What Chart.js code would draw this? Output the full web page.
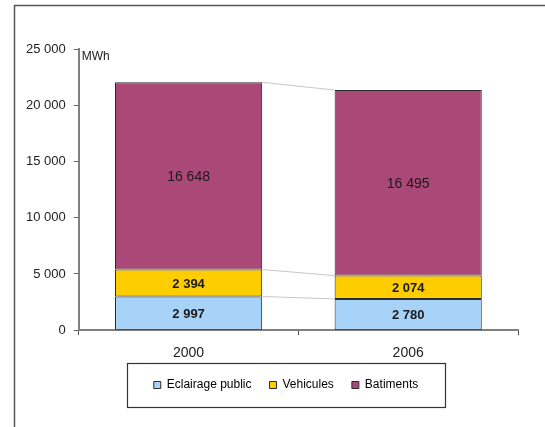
<!DOCTYPE html>
<html>
<head>
<meta charset="utf-8">
<script src="https://cdn.jsdelivr.net/npm/chart.js@4"></script>
<style>
  html, body { margin: 0; padding: 0; background: #fff; }
  #wrap { width: 545px; height: 427px; }
</style>
</head>
<body>
<div id="wrap"><canvas id="chart"></canvas></div>
<script>
const YEARS      = ['2000', '2006'];
const ECLAIRAGE  = [2997, 2780];
const VEHICULES  = [2394, 2074];
const BATIMENTS  = [16648, 16495];
const Y_TICKS    = [0, 5000, 10000, 15000, 20000, 25000];
const UNIT       = 'MWh';

const FONT = '"Liberation Sans", Arial, sans-serif';
const fmtNum = (v) => String(v).replace(/\B(?=(\d{3})+(?!\d))/g, ' ');

// frame, series lines, value labels, legend box, unit
const decor = {
  id: 'decor',
  afterLayout(chart) {
    const lg = chart.legend;
    const shift = 286 - (lg.left + lg.right) / 2;
    lg.left += shift;
    lg.right += shift;
    lg.top -= 11;
    lg.bottom -= 11;
  },
  beforeDraw(chart) {
    const ctx = chart.ctx;
    ctx.save();
    ctx.fillStyle = '#fff';
    ctx.fillRect(0, 0, chart.width, chart.height);
    ctx.strokeStyle = '#555';
    ctx.lineWidth = 1.5;
    ctx.beginPath();
    ctx.moveTo(14.5, chart.height);
    ctx.lineTo(14.5, 5.5);
    ctx.lineTo(chart.width, 5.5);
    ctx.stroke();
    ctx.restore();
  },
  afterDatasetsDraw(chart) {
    const ctx = chart.ctx;
    ctx.save();
    // series lines between the stacks
    ctx.strokeStyle = '#c8c8c8';
    ctx.lineWidth = 1;
    chart.data.datasets.forEach((ds, i) => {
      const bars = chart.getDatasetMeta(i).data;
      for (let j = 0; j < bars.length - 1; j++) {
        const a = bars[j], b = bars[j + 1];
        ctx.beginPath();
        ctx.moveTo(a.x + a.width / 2, a.y);
        ctx.lineTo(b.x - b.width / 2, b.y);
        ctx.stroke();
      }
    });
    // value labels
    ctx.textAlign = 'center';
    ctx.textBaseline = 'middle';
    ctx.fillStyle = '#1a1a1a';
    chart.data.datasets.forEach((ds, i) => {
      const bars = chart.getDatasetMeta(i).data;
      ctx.font = i < 2 ? 'bold 13px ' + FONT : '14px ' + FONT;
      bars.forEach((bar, j) => {
        const yc = (bar.y + bar.base) / 2 + 1;
        ctx.fillText(fmtNum(ds.data[j]), bar.x, yc);
      });
    });
    ctx.restore();
  },
  afterDraw(chart) {
    const ctx = chart.ctx;
    const lg = chart.legend;
    const boxes = lg.legendHitBoxes;
    ctx.save();
    if (boxes && boxes.length) {
      const minX = Math.min(...boxes.map(b => b.left));
      const maxX = Math.max(...boxes.map(b => b.left + b.width));
      const cy = boxes[0].top + boxes[0].height / 2;
      ctx.strokeStyle = '#333';
      ctx.lineWidth = 1.2;
      ctx.strokeRect(Math.round(minX - 27) + 0.5, Math.round(cy - 22) + 0.5,
                     Math.round(maxX - minX + 54), 44);
    }
    const ys = chart.scales.y;
    ctx.fillStyle = '#1a1a1a';
    ctx.font = '12px ' + FONT;
    ctx.textAlign = 'left';
    ctx.textBaseline = 'middle';
    ctx.fillText(UNIT, ys.right + 3, ys.getPixelForValue(Y_TICKS[Y_TICKS.length - 1]) + 8);
    ctx.restore();
  }
};

new Chart(document.getElementById('chart'), {
  type: 'bar',
  data: {
    labels: YEARS,
    datasets: [
      { label: 'Eclairage public', data: ECLAIRAGE, backgroundColor: '#a8d3f8' },
      { label: 'Vehicules',        data: VEHICULES, backgroundColor: '#fdcd00' },
      { label: 'Batiments',        data: BATIMENTS, backgroundColor: '#aa4877' }
    ].map(d => Object.assign(d, {
      borderColor: '#2b2b2b', borderWidth: 1, borderSkipped: false,
      categoryPercentage: 1, barPercentage: 0.67
    }))
  },
  options: {
    responsive: true,
    maintainAspectRatio: false,
    animation: false,
    layout: { padding: { top: 49, left: 18, right: 27, bottom: 15 } },
    plugins: {
      tooltip: { enabled: false },
      legend: {
        position: 'bottom',
        labels: {
          boxWidth: 7, boxHeight: 7, padding: 18,
          color: '#222',
          font: { family: FONT, size: 12 },
          generateLabels(chart) {
            return chart.data.datasets.map((ds, i) => ({
              text: ds.label,
              fillStyle: ds.backgroundColor,
              strokeStyle: '#2b2b2b',
              lineWidth: 1,
              datasetIndex: i
            }));
          }
        }
      }
    },
    scales: {
      x: {
        stacked: true,
        border: { color: '#808080', width: 2 },
        grid: { drawOnChartArea: false, drawTicks: true, tickLength: 5, color: '#555' },
        ticks: { color: '#222', padding: 10, font: { family: FONT, size: 14 } }
      },
      y: {
        stacked: true,
        min: 0, max: 25000,
        afterBuildTicks(scale) { scale.ticks = Y_TICKS.map(v => ({ value: v })); },
        border: { color: '#808080', width: 2 },
        grid: { drawOnChartArea: false, drawTicks: true, tickLength: 5, color: '#666' },
        ticks: { color: '#222', padding: 8, font: { family: FONT, size: 13 }, callback: (v) => fmtNum(v) }
      }
    }
  },
  plugins: [decor]
});
</script>
</body>
</html>
